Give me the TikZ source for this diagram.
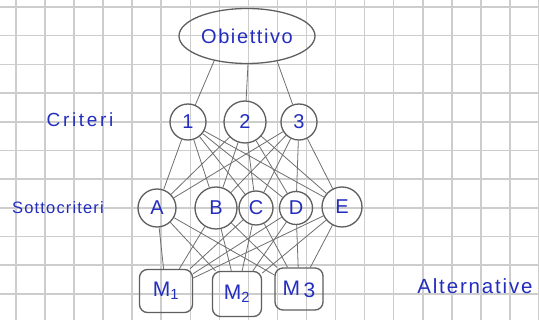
\documentclass[tikz,border=0pt]{standalone}
\usepackage{fontspec}
\setmainfont{Liberation Sans}
\usetikzlibrary{shapes.geometric}
\definecolor{ink}{RGB}{35,45,190}
\definecolor{pencil}{RGB}{95,95,95}
\definecolor{gridc}{RGB}{205,205,205}
\begin{document}
\begin{tikzpicture}[x=1pt,y=-1pt,
  inktext/.style={text=ink,inner sep=0pt},
  circ/.style={circle,draw=pencil,line width=1.3pt,inner sep=0pt,text=ink,
    font=\fontsize{20}{20}\selectfont},
  altbox/.style={rectangle,rounded corners=8pt,draw=pencil,line width=1.3pt,inner sep=0pt,
    text=ink,font=\fontsize{21}{21}\selectfont},
  link/.style={draw=pencil!90,line width=0.8pt}]
\useasboundingbox (0,0) rectangle (539,320);
\fill[white] (0,0) rectangle (539,320);
% grid paper
\foreach \k in {0,...,18} {\draw[gridc,line width=1.6pt] ({16+29.05*\k},0) -- ({16+29.05*\k},320);}
\foreach \k in {0,...,10} {\draw[gridc,line width=1.6pt] (0,{7+28.7*\k}) -- (539,{7+28.7*\k});}
% goal
\node[ellipse,draw=pencil,line width=1.3pt,minimum width=136pt,minimum height=55pt,inner sep=0pt,
  text=ink,font=\addfontfeature{LetterSpace=8}\fontsize{20}{20}\selectfont] (ob) at (247,36) {Obiettivo};
% criteria
\node[circ,minimum size=36pt] (c1) at (188,122) {1};
\node[circ,minimum size=42pt] (c2) at (245,122) {2};
\node[circ,minimum size=36pt] (c3) at (299,122) {3};
% subcriteria
\node[circ,minimum size=38pt] (sA) at (157,208) {A};
\node[circ,minimum size=42pt] (sB) at (216,208) {B};
\node[circ,minimum size=34pt] (sC) at (256,208) {C};
\node[circ,minimum size=33pt] (sD) at (296,208) {D};
\node[circ,minimum size=40pt] (sE) at (342,207) {E};
% alternatives
\node[altbox,minimum width=53pt,minimum height=43pt] (m1) at (166,291) {M\textsubscript{1}};
\node[altbox,minimum width=49pt,minimum height=45pt] (m2) at (237,294) {M\textsubscript{2}};
\node[altbox,minimum width=48pt,minimum height=42pt] (m3) at (299,289) {M\,\raisebox{-2pt}{3}};
% labels
\node[inktext,font=\addfontfeature{LetterSpace=14}\fontsize{19}{19}\selectfont] (lc) at (80,120) {Criteri};
\node[inktext,font=\addfontfeature{LetterSpace=7}\fontsize{16.5}{16.5}\selectfont] (ls) at (58,208) {Sottocriteri};
\node[inktext,font=\addfontfeature{LetterSpace=9}\fontsize{20.5}{20.5}\selectfont] (la) at (475,286) {Alternative};
% connectors
\draw[link] (ob.217) -- (c1);
\draw[link] (ob.272) -- (c2);
\draw[link] (ob.320) -- (c3);
\foreach \c in {c1,c2,c3} {\foreach \s in {sA,sB,sC,sD,sE} {\draw[link] (\c) -- (\s);}}
\foreach \s in {sA,sB,sC,sD,sE} {\foreach \m in {m1,m2,m3} {\draw[link] (\s) -- (\m);}}
\end{tikzpicture}
\end{document}
